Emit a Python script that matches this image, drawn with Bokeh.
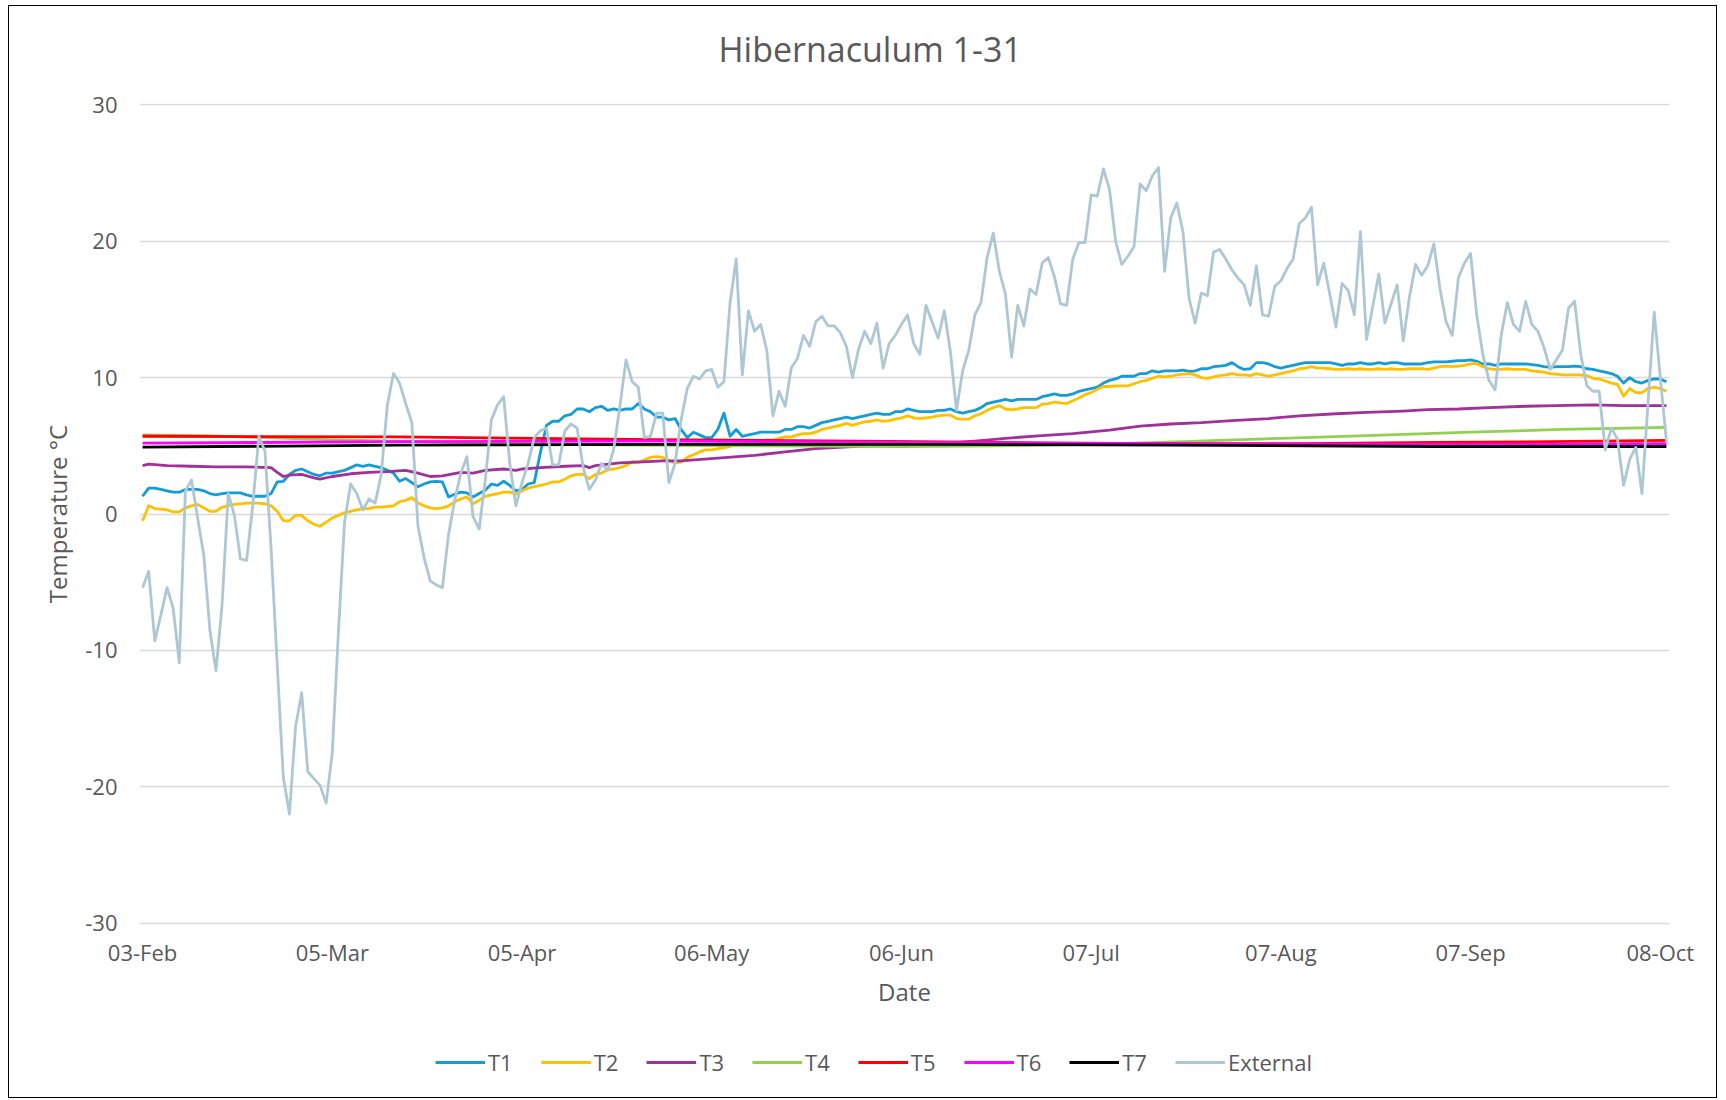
import pandas as pd
from bokeh.plotting import figure
from bokeh.layouts import column
from bokeh.models import Range1d, FixedTicker, DatetimeTickFormatter, Legend, LegendItem, Title
from bokeh.embed import file_html
from bokeh.resources import INLINE

# ---------------- data ----------------
title_text = "Hibernaculum 1-31"
start_date = "2024-02-03"
tick_dates = ["2024-02-03", "2024-03-05", "2024-04-05", "2024-05-06", "2024-06-06",
              "2024-07-07", "2024-08-07", "2024-09-07", "2024-10-08"]
y_ticks = [-30, -20, -10, 0, 10, 20, 30]
y_tick_labels = ["-30", "-20", "-10", "0", "10", "20", "30"]

external = [
    -5.4, -4.2, -9.3, -7.4, -5.4, -6.9, -10.9, 1.7, 2.5, -0.3,
    -3.0, -8.5, -11.5, -6.6, 1.5, -0.1, -3.3, -3.4, 0.6, 5.7,
    4.6, -2.5, -11.0, -19.3, -22.0, -15.6, -13.1, -18.9, -19.4, -19.9,
    -21.2, -17.5, -8.7, -0.6, 2.2, 1.5, 0.3, 1.1, 0.8, 2.9,
    8.0, 10.3, 9.6, 8.1, 6.7, -0.9, -3.2, -4.9, -5.2, -5.4,
    -1.5, 1.0, 3.0, 4.2, -0.2, -1.1, 2.5, 6.9, 8.0, 8.6,
    3.7, 0.6, 2.3, 3.7, 5.6, 6.1, 6.3, 3.6, 3.6, 6.1,
    6.6, 6.3, 3.4, 1.8, 2.5, 3.7, 3.2, 4.8, 7.9, 11.3,
    9.7, 9.3, 5.6, 5.7, 7.4, 7.4, 2.3, 3.7, 6.9, 9.2,
    10.1, 9.9, 10.5, 10.6, 9.3, 9.7, 15.5, 18.7, 10.2, 14.9,
    13.4, 13.9, 12.0, 7.2, 9.0, 7.9, 10.7, 11.4, 13.1, 12.3,
    14.1, 14.5, 13.8, 13.8, 13.3, 12.3, 10.0, 12.1, 13.4, 12.5,
    14.0, 10.7, 12.5, 13.1, 13.9, 14.6, 12.5, 11.7, 15.3, 14.1,
    12.9, 14.9, 11.9, 7.6, 10.5, 12.0, 14.6, 15.5, 18.8, 20.6,
    17.8, 16.1, 11.5, 15.3, 13.8, 16.5, 16.1, 18.4, 18.8, 17.4,
    15.4, 15.3, 18.7, 19.9, 19.9, 23.4, 23.3, 25.3, 23.8, 20.0,
    18.3, 18.9, 19.6, 24.2, 23.7, 24.8, 25.4, 17.8, 21.7, 22.8,
    20.7, 15.8, 14.0, 16.2, 16.0, 19.2, 19.4, 18.7, 17.9, 17.3,
    16.8, 15.3, 18.2, 14.6, 14.5, 16.7, 17.1, 18.0, 18.7, 21.3,
    21.7, 22.5, 16.8, 18.4, 16.1, 13.7, 16.9, 16.4, 14.6, 20.7,
    12.8, 15.2, 17.6, 14.0, 15.4, 16.8, 12.7, 15.9, 18.3, 17.5,
    18.2, 19.8, 16.5, 14.1, 13.1, 17.3, 18.4, 19.1, 14.6, 11.7,
    9.8, 9.1, 13.1, 15.5, 13.9, 13.4, 15.6, 13.9, 13.4, 12.2,
    10.6, 11.3, 12.0, 15.1, 15.6, 11.7, 9.4, 9.0, 9.0, 4.7,
    6.3, 5.5, 2.1, 4.0, 4.9, 1.5, 8.2, 14.8, 10.0, 5.3,
]

t1 = [
    1.3, 1.9, 1.9, 1.8, 1.7, 1.6, 1.6, 1.8, 1.8, 1.8,
    1.7, 1.5, 1.4, 1.5, 1.55, 1.55, 1.55, 1.4, 1.3, 1.3,
    1.3, 1.5, 2.35, 2.4, 2.9, 3.2, 3.3, 3.1, 2.9, 2.8,
    3.0, 3.0, 3.1, 3.2, 3.4, 3.6, 3.5, 3.6, 3.5, 3.4,
    3.2, 3.0, 2.4, 2.6, 2.3, 2.0, 2.2, 2.35, 2.4, 2.35,
    1.25, 1.45, 1.6, 1.55, 1.25, 1.5, 1.75, 2.2, 2.1, 2.4,
    2.1, 1.7, 1.8, 2.2, 2.3, 4.5, 6.5, 6.8, 6.8, 7.2,
    7.3, 7.7, 7.7, 7.5, 7.8, 7.9, 7.6, 7.7, 7.6, 7.7,
    7.7, 8.1, 7.7, 7.5, 7.1, 7.1, 6.9, 7.0, 6.2, 5.6,
    6.0, 5.8, 5.6, 5.6, 6.2, 7.4, 5.7, 6.2, 5.7, 5.8,
    5.9, 6.0, 6.0, 6.0, 6.0, 6.2, 6.2, 6.4, 6.4, 6.3,
    6.5, 6.7, 6.8, 6.9, 7.0, 7.1, 7.0, 7.1, 7.2, 7.3,
    7.4, 7.3, 7.3, 7.5, 7.5, 7.7, 7.6, 7.5, 7.5, 7.5,
    7.6, 7.6, 7.7, 7.5, 7.4, 7.5, 7.6, 7.8, 8.1, 8.2,
    8.3, 8.4, 8.3, 8.4, 8.4, 8.4, 8.4, 8.6, 8.7, 8.8,
    8.7, 8.7, 8.8, 9.0, 9.1, 9.2, 9.3, 9.6, 9.8, 9.9,
    10.1, 10.1, 10.1, 10.3, 10.3, 10.5, 10.4, 10.5, 10.5, 10.5,
    10.55, 10.45, 10.5, 10.65, 10.65, 10.8, 10.85, 10.9, 11.1, 10.8,
    10.6, 10.65, 11.1, 11.1, 11.0, 10.8, 10.7, 10.8, 10.9, 11.0,
    11.1, 11.1, 11.1, 11.1, 11.1, 11.0, 10.9, 11.0, 11.0, 11.1,
    11.0, 11.0, 11.1, 11.0, 11.1, 11.1, 11.0, 11.0, 11.0, 11.0,
    11.1, 11.15, 11.15, 11.15, 11.2, 11.25, 11.25, 11.3, 11.2, 11.0,
    11.0, 10.9, 11.0, 11.0, 11.0, 11.0, 11.0, 10.95, 10.9, 10.8,
    10.75, 10.8, 10.8, 10.8, 10.85, 10.8, 10.65, 10.6, 10.5, 10.4,
    10.3, 10.1, 9.6, 10.0, 9.7, 9.6, 9.8, 9.9, 9.9, 9.7,
]

t2 = [
    -0.5, 0.6, 0.4, 0.35, 0.3, 0.15, 0.15, 0.45, 0.6, 0.7,
    0.45, 0.2, 0.2, 0.5, 0.6, 0.7, 0.75, 0.8, 0.8, 0.8,
    0.75, 0.6, 0.2, -0.5, -0.5, -0.1, -0.1, -0.5, -0.75, -0.9,
    -0.6, -0.3, -0.1, 0.1, 0.2, 0.3, 0.4, 0.4, 0.5, 0.5,
    0.55, 0.6, 0.9, 1.0, 1.2, 0.8, 0.6, 0.45, 0.4, 0.45,
    0.6, 0.9, 1.1, 1.25, 0.75, 1.0, 1.3, 1.4, 1.5, 1.6,
    1.6, 1.45, 1.7, 1.9, 2.0, 2.1, 2.2, 2.35, 2.35, 2.55,
    2.8, 2.9, 2.9, 2.6, 2.9, 3.0, 3.25, 3.3, 3.4, 3.55,
    3.85, 3.8, 3.95, 4.15, 4.2, 4.15, 3.9, 3.75, 3.8, 4.15,
    4.35, 4.55, 4.7, 4.7, 4.8, 4.85, 4.95, 5.05, 5.1, 5.2,
    5.2, 5.25, 5.45, 5.4, 5.55, 5.65, 5.65, 5.8, 5.9, 5.9,
    6.0, 6.2, 6.3, 6.4, 6.5, 6.65, 6.5, 6.65, 6.75, 6.8,
    6.9, 6.8, 6.85, 6.95, 7.05, 7.2, 7.05, 7.0, 7.05, 7.1,
    7.2, 7.25, 7.25, 7.0, 6.95, 6.95, 7.2, 7.35, 7.6, 7.8,
    7.95, 7.7, 7.65, 7.7, 7.8, 7.8, 7.8, 8.05, 8.1, 8.2,
    8.15, 8.1, 8.3, 8.5, 8.75, 8.9, 9.15, 9.35, 9.35, 9.4,
    9.4, 9.4, 9.55, 9.7, 9.8, 9.95, 10.1, 10.05, 10.1, 10.2,
    10.25, 10.3, 10.2, 10.0, 9.95, 10.05, 10.15, 10.2, 10.3, 10.2,
    10.2, 10.15, 10.3, 10.2, 10.1, 10.2, 10.3, 10.4, 10.5, 10.65,
    10.7, 10.8, 10.7, 10.7, 10.65, 10.6, 10.6, 10.65, 10.6, 10.65,
    10.6, 10.6, 10.65, 10.6, 10.65, 10.6, 10.6, 10.65, 10.65, 10.65,
    10.6, 10.7, 10.8, 10.85, 10.8, 10.85, 10.9, 11.0, 11.05, 10.8,
    10.65, 10.6, 10.6, 10.65, 10.6, 10.6, 10.6, 10.5, 10.45, 10.4,
    10.3, 10.25, 10.2, 10.2, 10.2, 10.2, 10.15, 9.95, 9.9, 9.75,
    9.6, 9.5, 8.65, 9.2, 8.9, 8.9, 9.2, 9.3, 9.2, 9.0,
]

# slowly varying probes: values read at these day offsets from start_date
t3_days = [0, 1, 4, 8, 12, 17, 21, 22, 23, 24, 26, 28, 29, 31, 34, 37, 40, 43, 45, 47,
           49, 52, 54, 56, 59, 61, 62, 65, 69, 72, 73, 74, 78, 81, 85, 88, 94, 100, 105, 110,
           116, 124, 130, 136, 141, 147, 152, 158, 163, 168, 173, 178, 184, 189, 195, 200, 206,
           210, 215, 220, 226, 231, 237, 242, 249]
t3 = [3.55, 3.65, 3.55, 3.5, 3.45, 3.45, 3.4, 3.05, 2.75, 2.85, 2.9, 2.65, 2.55, 2.75, 2.95,
      3.05, 3.1, 3.2, 3.0, 2.75, 2.8, 3.05, 3.0, 3.2, 3.3, 3.2, 3.3, 3.4, 3.5, 3.55, 3.4, 3.55,
      3.75, 3.8, 3.9, 3.9, 4.1, 4.3, 4.55, 4.8, 4.95, 5.1, 5.15, 5.35, 5.55, 5.75, 5.9, 6.15,
      6.45, 6.6, 6.7, 6.85, 7.0, 7.2, 7.35, 7.45, 7.55, 7.65, 7.7, 7.8, 7.9, 7.95, 8.0, 7.95, 7.95]

t4_days = [0, 10, 20, 30, 45, 62, 80, 100, 124, 140, 155, 170, 186, 200, 217, 232, 249]
t4 = [5.8, 5.75, 5.6, 5.45, 5.3, 5.15, 5.05, 5.0, 4.95, 5.0, 5.1, 5.3, 5.55, 5.75, 6.0, 6.2, 6.35]

t5_days = [0, 42, 84, 127, 150, 170, 190, 211, 230, 249]
t5 = [5.7, 5.65, 5.45, 5.3, 5.2, 5.15, 5.15, 5.25, 5.3, 5.4]

t6_days = [0, 42, 84, 127, 168, 211, 249]
t6 = [5.2, 5.3, 5.35, 5.25, 5.15, 5.1, 5.15]

t7_days = [0, 42, 84, 127, 168, 211, 249]
t7 = [4.9, 5.05, 5.1, 5.1, 5.05, 4.95, 4.95]

series_names = ["T1", "T2", "T3", "T4", "T5", "T6", "T7", "External"]
series_colors = ["#139CD8", "#FFC000", "#A0309A", "#92D050", "#FF0000", "#FF00FF", "#000000", "#ADC7D3"]

# ---------------- figure ----------------
start = pd.Timestamp(start_date)
dates = pd.date_range(start, periods=len(external), freq="D")


def day_dates(days):
    return [start + pd.Timedelta(days=d) for d in days]


TXT = "#595959"
FONT = "Open Sans"
W = 1707
H_MAIN = 1030
H_LEG = 61
LW = 2.8
x_lo = start - pd.Timedelta(hours=12)
x_hi = dates[-1] + pd.Timedelta(hours=12)

p = figure(width=W, height=H_MAIN, x_axis_type="datetime",
           output_backend="svg", toolbar_location=None,
           x_range=Range1d(x_lo, x_hi), y_range=Range1d(-30.1, 30.1),
           min_border_left=130, min_border_right=47, min_border_top=97, min_border_bottom=112)
p.outline_line_color = None
p.background_fill_color = "white"
p.border_fill_color = "white"

xs_all = [dates, dates, day_dates(t3_days), day_dates(t4_days), day_dates(t5_days),
          day_dates(t6_days), day_dates(t7_days), dates]
ys_all = [t1, t2, t3, t4, t5, t6, t7, external]

for name, color, xs, ys in zip(series_names, series_colors, xs_all, ys_all):
    p.line(xs, ys, line_color=color, line_width=LW, line_join="round")

# axes
tick_ms = [pd.Timestamp(d).value / 1e6 for d in tick_dates]
p.xaxis.ticker = FixedTicker(ticks=tick_ms)
fmt = "%d-%b"
p.xaxis.formatter = DatetimeTickFormatter(days=fmt, months=fmt, years=fmt, hours=fmt,
                                          hourmin=fmt, minutes=fmt, minsec=fmt, seconds=fmt,
                                          milliseconds=fmt, microseconds=fmt)
p.yaxis.ticker = FixedTicker(ticks=y_ticks)
p.yaxis.major_label_overrides = {t: s for t, s in zip(y_ticks, y_tick_labels)}

for ax in (p.xaxis[0], p.yaxis[0]):
    ax.axis_line_color = None
    ax.major_tick_line_color = None
    ax.minor_tick_line_color = None
    ax.major_label_text_color = TXT
    ax.major_label_text_font = FONT
    ax.major_label_text_font_size = "22px"
    ax.axis_label_text_color = TXT
    ax.axis_label_text_font = FONT
    ax.axis_label_text_font_style = "normal"
    ax.axis_label_text_font_size = "24px"

p.xaxis.axis_label = "Date"
p.yaxis.axis_label = "Temperature °C"
p.xaxis.major_label_standoff = 6
p.xaxis.axis_label_standoff = 5
p.yaxis.major_label_standoff = 16
p.yaxis.axis_label_standoff = 8

p.xgrid.visible = False
p.ygrid.ticker = FixedTicker(ticks=y_ticks)
p.ygrid.grid_line_color = "#D9D9D9"
p.ygrid.grid_line_width = 1.3

# title: outermost "above" element; a blank spacer title keeps it off the frame
p.title.text = title_text
p.title.align = "left"
p.title.offset = 579
p.title.vertical_align = "middle"
p.title.standoff = 10
p.title.text_color = TXT
p.title.text_font = FONT
p.title.text_font_style = "normal"
p.title.text_font_size = "34px"
p.add_layout(Title(text=" ", text_font_size="1px", standoff=23), "above")

# ---------------- legend strip (its own small figure under the chart) ----------------
# Same series drawn again, but this strip's ranges exclude them: only the legend shows.
q = figure(width=W, height=H_LEG, output_backend="svg", toolbar_location=None,
           x_range=Range1d(0, 1), y_range=Range1d(100, 101),
           x_axis_location=None, y_axis_location=None, min_border=0)
q.grid.visible = False
q.outline_line_color = None
q.background_fill_color = "white"
q.border_fill_color = "white"

items = []
for name, color, xs, ys in zip(series_names, series_colors, xs_all, ys_all):
    r = q.line(xs, ys, line_color=color, line_width=LW)
    items.append(LegendItem(label=name, renderers=[r]))

legend = Legend(items=items, orientation="horizontal", location=(296, 20),
                glyph_width=50, glyph_height=20, label_standoff=3, spacing=28,
                padding=0, margin=0, border_line_color=None, background_fill_alpha=0,
                label_text_font=FONT, label_text_font_size="22px", label_text_color=TXT)
q.add_layout(legend, "center")

layout = column(p, q, spacing=0,
                styles={"border": "1px solid #000000", "margin-left": "8px", "margin-top": "5px"})

open("out.html", "w").write(file_html(layout, INLINE))
